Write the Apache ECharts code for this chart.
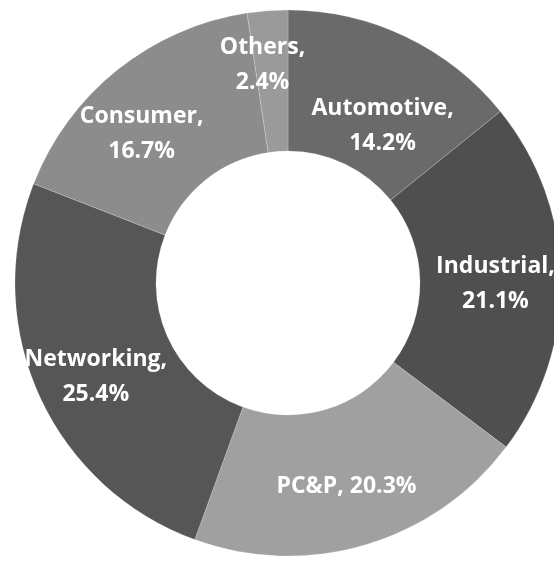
<!DOCTYPE html>
<html>
<head>
<meta charset="utf-8">
<script src="https://cdn.jsdelivr.net/npm/echarts@6/dist/echarts.min.js"></script>
<style>
  html, body { margin: 0; padding: 0; background: #fff; }
  #chart { width: 554px; height: 563px; }
</style>
</head>
<body>
<div id="chart"></div>
<script>
// segments, clockwise from 12 o'clock
const categories = ['Automotive', 'Industrial', 'PC&P', 'Networking', 'Consumer', 'Others']
const shares = [14.2, 21.1, 20.3, 25.4, 16.7, 2.4]
const sliceColors = ['#6a6a6a', '#4f4f4f', '#a0a0a0', '#565656', '#8c8c8c', '#9a9a9a']

// how each label is split, like the original
const labelBreaks = { 'PC&P': ', ' }
// small shifts so labels sit where Excel put them
const labelNudges = {
    'Automotive': [6, 28], 'Industrial': [2, 5], 'PC&P': [0, 6],
    'Networking': [-5, 9], 'Consumer': [-18, 11], 'Others': [-10, -13]
}

const chart = echarts.init(document.getElementById('chart'))

const option = {
    backgroundColor: '#fff',
    animation: false,
    series: [{
        type: 'pie',
        center: [288, 283],
        radius: [132, 273],
        startAngle: 90,
        clockwise: true,
        itemStyle: {
            borderColor: 'rgba(255,255,255,0.2)',
            borderWidth: 1
        },
        label: {
            show: true,
            position: 'inside',
            color: '#fff',
            fontFamily: 'Open Sans',
            fontWeight: 'bold',
            fontSize: 23,
            lineHeight: 35,
            formatter: p => p.name + (labelBreaks[p.name] || ',\n') + p.value.toFixed(1) + '%'
        },
        labelLine: { show: false },
        data: categories.map((name, i) => ({
            name: name,
            value: shares[i],
            itemStyle: { color: sliceColors[i] },
            label: { offset: labelNudges[name] }
        }))
    }]
}

chart.setOption(option)
</script>
</body>
</html>
